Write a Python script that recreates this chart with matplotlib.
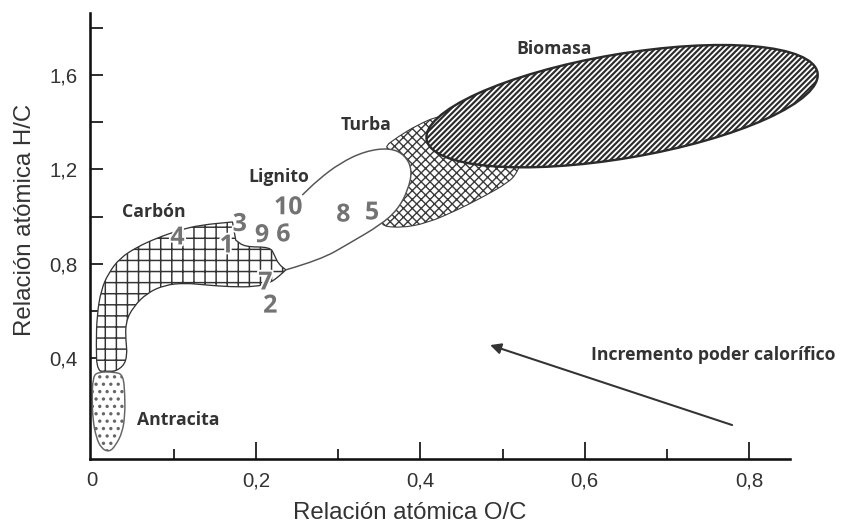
import numpy as np
import matplotlib
matplotlib.use("Agg")
import matplotlib.pyplot as plt
from matplotlib.path import Path
from matplotlib.patches import PathPatch, Circle
from matplotlib.transforms import Affine2D
import matplotlib.patheffects as pe

# --- data (O/C, H/C) ---
carbon_oc = [0.006, 0.005, 0.006, 0.011, 0.020, 0.034, 0.055, 0.079, 0.107, 0.132, 0.171,
             0.175, 0.186, 0.217, 0.222, 0.227, 0.236, 0.228, 0.217, 0.199, 0.168, 0.138,
             0.113, 0.089, 0.067, 0.050, 0.041, 0.041, 0.043, 0.038, 0.022]
carbon_hc = [0.341, 0.455, 0.582, 0.688, 0.760, 0.824, 0.871, 0.909, 0.943, 0.964, 0.977,
             0.900, 0.871, 0.871, 0.837, 0.799, 0.774, 0.748, 0.719, 0.702, 0.702, 0.710,
             0.718, 0.710, 0.676, 0.616, 0.553, 0.476, 0.413, 0.362, 0.336]
carbon_sharp = [10, 11, 16]

antracita_oc = [0.001, 0.006, 0.028, 0.038, 0.040, 0.040, 0.037, 0.029, 0.021, 0.011, 0.005, 0.001, 0.000]
antracita_hc = [0.315, 0.341, 0.341, 0.328, 0.243, 0.158, 0.086, 0.031, 0.001, 0.018, 0.065, 0.137, 0.230]

lignito_oc = [0.236, 0.278, 0.314, 0.351, 0.372, 0.385, 0.390, 0.381, 0.363, 0.333, 0.302, 0.275, 0.256]
lignito_hc = [0.774, 0.816, 0.888, 0.964, 1.028, 1.113, 1.198, 1.261, 1.291, 1.278, 1.227, 1.155, 1.091]
lignito_close_oc = [0.240, 0.236]
lignito_close_hc = [0.960, 0.850]

turba_oc = [0.354, 0.372, 0.396, 0.424, 0.473, 0.534, 0.518, 0.506, 0.476, 0.445, 0.408,
            0.375, 0.347, 0.369, 0.387, 0.375]
turba_hc = [1.290, 1.337, 1.388, 1.430, 1.443, 1.324, 1.185, 1.142, 1.083, 1.028, 0.972,
            0.951, 0.964, 1.049, 1.176, 1.261]

# biomasa ellipse: centre and two conjugate semi-axes (data units)
biomasa_center = (0.6455, 1.468)
biomasa_u = (0.238, 0.142)
biomasa_v = (0.011, -0.217)

region_names = ["Carbón", "Lignito", "Turba", "Biomasa", "Antracita"]
region_oc = [0.0755, 0.227, 0.334, 0.563, 0.1045]
region_hc = [1.018, 1.168, 1.388, 1.710, 0.137]

sample_ids = ["1", "2", "3", "4", "5", "6", "7", "8", "9", "10"]
sample_oc = [0.164, 0.217, 0.180, 0.104, 0.341, 0.233, 0.211, 0.306, 0.207, 0.239]
sample_hc = [0.888, 0.633, 0.979, 0.922, 1.028, 0.935, 0.731, 1.019, 0.932, 1.050]

arrow_tail = (0.7795, 0.116)
arrow_head = (0.4848, 0.455)
arrow_text = "Incremento poder calorífico"
arrow_text_pos = (0.756, 0.413)

y_major = [0.4, 0.8, 1.2, 1.6]
y_minor = [0.6, 1.0, 1.4, 1.8]
x_major = [0, 0.2, 0.4, 0.6, 0.8]
x_minor = [0.1, 0.3, 0.5, 0.7]


def smooth_closed(xs, ys, sharp=()):
    pts = np.column_stack([xs, ys])
    n = len(pts)
    mids = (pts + np.roll(pts, -1, axis=0)) / 2
    verts = [mids[-1]]
    codes = [Path.MOVETO]
    for i in range(n):
        c = Path.LINETO if i in sharp else Path.CURVE3
        verts += [pts[i], mids[i]]
        codes += [c, c]
    verts.append(mids[-1])
    codes.append(Path.CLOSEPOLY)
    return Path(verts, codes)


def smooth_open(xs, ys):
    pts = np.column_stack([xs, ys])
    n = len(pts)
    verts = [pts[0]]
    codes = [Path.MOVETO]
    for i in range(1, n - 1):
        verts += [pts[i], (pts[i] + pts[i + 1]) / 2]
        codes += [Path.CURVE3, Path.CURVE3]
    verts.append(pts[-1])
    codes.append(Path.LINETO)
    return Path(verts, codes)


def add_patch(ax, patch, hatch_lw):
    if hasattr(patch, "set_hatch_linewidth"):
        patch.set_hatch_linewidth(hatch_lw)
    ax.add_patch(patch)


DPI = 400 / 3
plt.rcParams['font.family'] = ['Liberation Sans', 'DejaVu Sans']
plt.rcParams['hatch.linewidth'] = 0.8

fig = plt.figure(figsize=(852 / DPI, 523 / DPI), dpi=DPI)
ax = fig.add_axes([90 / 852, 1 - 459 / 523, 700 / 852, 446 / 523])
ax.set_xlim(-0.0025, 0.85)
ax.set_ylim(-0.028, 1.863)

dark = "#333333"

# turba (under lignito and biomasa)
plt.rcParams['hatch.linewidth'] = 0.8
turba = PathPatch(smooth_closed(turba_oc, turba_hc), facecolor="white", edgecolor="#3a3a3a",
                  lw=0.6, hatch="xxxxx", zorder=1, clip_on=False)
add_patch(ax, turba, 0.75)

# lignito
lig_fill = PathPatch(smooth_closed(lignito_oc + lignito_close_oc, lignito_hc + lignito_close_hc),
                     facecolor="white", edgecolor="none", zorder=2)
ax.add_patch(lig_fill)
lig_line = PathPatch(smooth_open(lignito_oc, lignito_hc), facecolor="none", edgecolor="#555555",
                     lw=0.8, zorder=3)
ax.add_patch(lig_line)

# biomasa
plt.rcParams['hatch.linewidth'] = 1.1
bio = Circle((0, 0), 1, facecolor="white", edgecolor="#2b2b2b", lw=1.3, hatch="/" * 8,
             zorder=4, clip_on=False,
             transform=Affine2D().from_values(biomasa_u[0], biomasa_u[1], biomasa_v[0],
                                              biomasa_v[1], *biomasa_center) + ax.transData)
add_patch(ax, bio, 1.15)

# carbon
plt.rcParams['hatch.linewidth'] = 0.8
carb = PathPatch(smooth_closed(carbon_oc, carbon_hc, carbon_sharp), facecolor="white",
                 edgecolor="#333333", lw=0.7, hatch="++", zorder=2)
add_patch(ax, carb, 0.8)

# antracita
plt.rcParams['hatch.linewidth'] = 1.0
antr = PathPatch(smooth_closed(antracita_oc, antracita_hc), facecolor="white",
                 edgecolor="#666666", lw=0.8, hatch="...", zorder=2, clip_on=False)
add_patch(ax, antr, 1.0)

# labels
for name, x, y in zip(region_names, region_oc, region_hc):
    ax.text(x, y, name, family=['Open Sans', 'DejaVu Sans'], fontweight='bold', fontsize=9.5,
            color="#333333", ha='center', va='center', zorder=6)

for s, x, y in zip(sample_ids, sample_oc, sample_hc):
    ax.text(x, y, s, family=['Open Sans', 'DejaVu Sans'], fontweight='bold', fontsize=13.5,
            color="#737373", ha='center', va='center_baseline', zorder=6,
            path_effects=[pe.withStroke(linewidth=2, foreground='white')])

ax.annotate("", xy=arrow_head, xytext=arrow_tail,
            arrowprops=dict(arrowstyle='-|>', color=dark, lw=1.1, mutation_scale=12,
                            shrinkA=0, shrinkB=0), zorder=5)
ax.text(*arrow_text_pos, arrow_text, family=['Open Sans', 'DejaVu Sans'], fontweight='bold',
        fontsize=9.5, color="#333333", ha='center', va='center')

# axes styling
for side in ['top', 'right']:
    ax.spines[side].set_visible(False)
for side in ['left', 'bottom']:
    ax.spines[side].set_linewidth(1.4)
    ax.spines[side].set_color('#111111')

ax.set_yticks(y_major)
ax.set_yticklabels([f"{v:.1f}".replace('.', ',') for v in y_major])
ax.set_yticks(y_minor, minor=True)
ax.set_xticks(x_major)
ax.set_xticklabels(["0"] + [f"{v:.1f}".replace('.', ',') for v in x_major[1:]])
ax.set_xticks(x_minor, minor=True)
ax.tick_params(axis='y', which='both', direction='in', length=7, width=1.0, color='#222222',
               labelsize=11, labelcolor=dark, pad=6.5)
ax.tick_params(axis='x', which='major', direction='in', length=9, width=1.0, color='#222222',
               labelsize=11, labelcolor=dark, pad=6.5)
ax.tick_params(axis='x', which='minor', direction='in', length=5.4, width=1.0, color='#222222')
ax.xaxis.get_major_ticks()[0].tick1line.set_visible(False)

ax.set_xlabel("Relación atómica O/C", fontsize=13, color=dark)
ax.set_ylabel("Relación atómica H/C", fontsize=13, color=dark)
ax.xaxis.set_label_coords((410 - 90) / 700, -(513 - 459) / 446)
ax.yaxis.set_label_coords(-(90 - 25) / 700, (459 - 220) / 446)
ax.xaxis.label.set_va('center')
ax.yaxis.label.set_va('center')

fig.savefig("out.png", dpi=DPI)
